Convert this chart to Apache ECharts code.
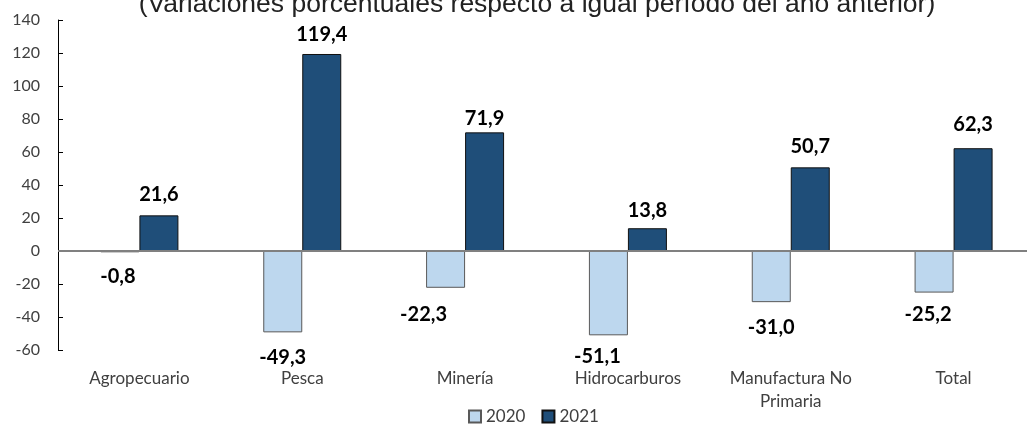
<!DOCTYPE html>
<html lang="es">
<head>
  <meta charset="UTF-8">
  <title>Variaciones porcentuales</title>
  <script src="https://cdn.jsdelivr.net/npm/echarts@6/dist/echarts.min.js"></script>
  <style>
    html, body { margin: 0; padding: 0; background: #fff; }
    #chart { width: 1027px; height: 428px; }
  </style>
</head>
<body>
<div id="chart"></div>
<script>
  // datos
  const categories = ['Agropecuario', 'Pesca', 'Minería', 'Hidrocarburos', 'Manufactura No\nPrimaria', 'Total'];
  const values2020 = [-0.8, -49.3, -22.3, -51.1, -31.0, -25.2];
  const values2021 = [21.6, 119.4, 71.9, 13.8, 50.7, 62.3];
  const yTicks = [-60, -40, -20, 0, 20, 40, 60, 80, 100, 120, 140];

  // desplazamiento manual de algunas etiquetas (como en el original)
  const offsets2020 = [[-2, 0], [0, 1], [-22, 3], [-11, -3], [0, 1], [-6, -2]];
  const offsets2021 = [[0, -3], [0, -1], [0, 4], [0, 0], [0, -3], [0, -6]];

  const fmt = v => v.toFixed(1).replace('.', ',');
  const labelFont = { fontFamily: 'Lato', fontWeight: 'bold', fontSize: 20, color: '#000' };

  const chart = echarts.init(document.getElementById('chart'));
  chart.setOption({
    animation: false,
    title: {
      text: '(Variaciones porcentuales respecto a igual período del año anterior)',
      left: 532,
      textAlign: 'center',
      top: -14,
      textStyle: { fontFamily: 'Liberation Sans', fontSize: 26.5, fontWeight: 'normal', color: '#222' }
    },
    legend: {
      bottom: -2,
      left: 463,
      icon: 'rect',
      itemWidth: 12,
      itemHeight: 12,
      itemGap: 16,
      textStyle: { fontFamily: 'Lato', fontSize: 17, color: '#404040' },
      data: ['2020', '2021']
    },
    grid: { left: 58, right: -8, top: 20, bottom: 78, outerBoundsMode: 'none' },
    xAxis: {
      type: 'category',
      data: categories,
      axisLine: { onZero: false, show: false },
      axisTick: { show: false },
      axisLabel: { margin: 17, fontFamily: 'Lato', fontSize: 17, color: '#404040', lineHeight: 23 }
    },
    yAxis: {
      type: 'value',
      min: yTicks[0],
      max: yTicks[yTicks.length - 1],
      interval: 20,
      axisLine: { show: true, lineStyle: { color: '#000', width: 1 } },
      axisTick: { show: true, inside: true, length: 5, lineStyle: { color: '#000' } },
      splitLine: { show: false },
      axisLabel: { margin: 18, fontFamily: 'Lato', fontSize: 16, color: '#404040' }
    },
    series: [
      {
        name: '2020',
        type: 'bar',
        barWidth: 39,
        barGap: '0%',
        itemStyle: { color: '#BDD7EE', borderColor: '#595959', borderWidth: 1 },
        label: {
          show: true, position: 'bottom', distance: 14,
          formatter: p => fmt(p.value), ...labelFont
        },
        data: values2020.map((v, i) => ({ value: v, label: { offset: offsets2020[i] } })),
        markLine: {
          silent: true,
          symbol: 'none',
          label: { show: false },
          lineStyle: { color: '#808080', width: 2, type: 'solid' },
          data: [{ yAxis: 0 }]
        }
      },
      {
        name: '2021',
        type: 'bar',
        barWidth: 39,
        barGap: '0%',
        itemStyle: { color: '#1F4E79', borderColor: '#111', borderWidth: 1 },
        label: {
          show: true, position: 'top', distance: 8,
          formatter: p => fmt(p.value), ...labelFont
        },
        data: values2021.map((v, i) => ({ value: v, label: { offset: offsets2021[i] } }))
      }
    ]
  });
</script>
</body>
</html>
